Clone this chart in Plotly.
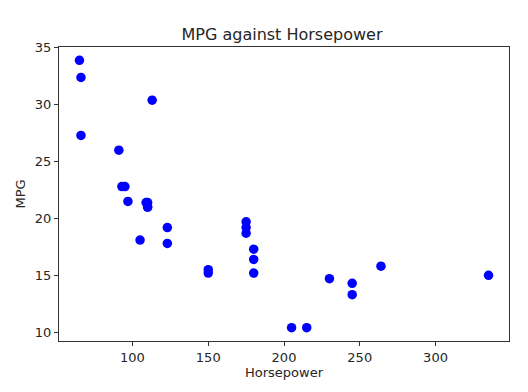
import plotly.graph_objects as go

horsepower = [110, 110, 93, 110, 175, 105, 245, 95, 123, 123, 180, 180, 180,
              205, 215, 230, 66, 65, 97, 150, 150, 245, 175, 66, 91, 113,
              264, 175, 335, 109]
mpg = [21.0, 21.0, 22.8, 21.4, 18.7, 18.1, 14.3, 22.8, 19.2, 17.8, 16.4, 17.3,
       15.2, 10.4, 10.4, 14.7, 32.4, 33.9, 21.5, 15.5, 15.2, 13.3, 19.2, 27.3,
       26.0, 30.4, 15.8, 19.7, 15.0, 21.4]
x_ticks = [100, 150, 200, 250, 300]
y_ticks = [10, 15, 20, 25, 30, 35]

fig = go.Figure(go.Scatter(
    x=horsepower, y=mpg, mode="markers",
    marker=dict(color="#0000ff", size=9.5, line=dict(width=0)),
))

axis_common = dict(
    showgrid=False, zeroline=False, showline=True, linecolor="#333333",
    linewidth=1, mirror=True, ticks="outside", ticklen=4, tickcolor="#333333",
    tickfont=dict(family="DejaVu Sans", size=13, color="#262626"),
)
fig.update_layout(
    width=528, height=392,
    margin=dict(l=47, r=27, t=39, b=59),
    paper_bgcolor="white", plot_bgcolor="white",
    title=dict(text="MPG against Horsepower", x=(47 + 501) / 2 / 528,
               xanchor="center", xref="container", yref="container",
               y=1 - 26 / 392, yanchor="middle",
               font=dict(family="DejaVu Sans", size=16, color="#262626")),
    font=dict(family="DejaVu Sans", size=13, color="#262626"),
    xaxis=dict(range=[51.5, 348.5], tickvals=x_ticks,
               title=dict(text="Horsepower", standoff=4,
                          font=dict(family="DejaVu Sans", size=13)),
               **axis_common),
    yaxis=dict(range=[9.225, 35.075], tickvals=y_ticks,
               title=dict(text="MPG", standoff=6,
                          font=dict(family="DejaVu Sans", size=13)),
               **axis_common),
    showlegend=False,
)

fig.write_html("out.html")
